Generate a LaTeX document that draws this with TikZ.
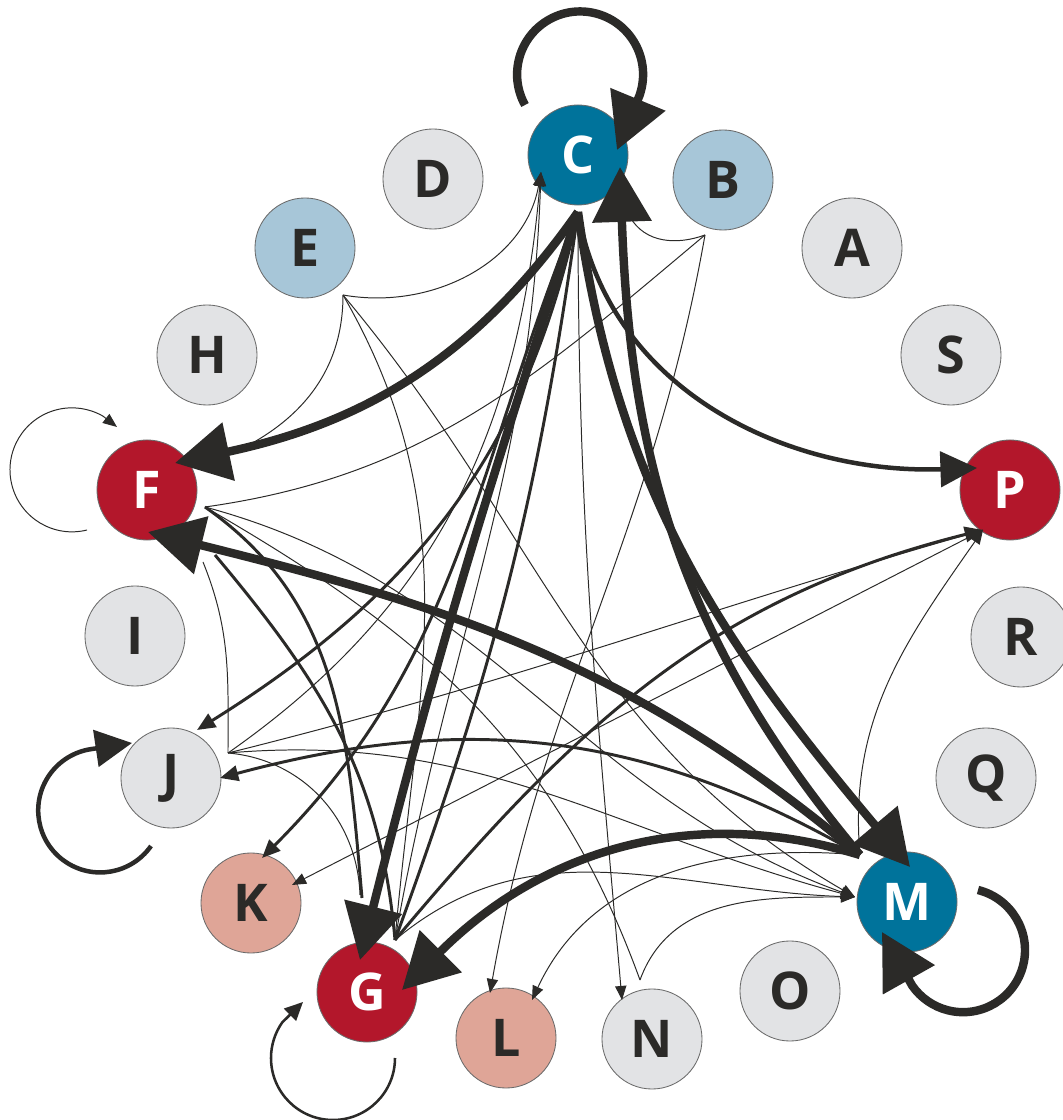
\documentclass[tikz,border=0pt]{standalone}
\usepackage{fontspec}
\setsansfont{Open Sans}
\usetikzlibrary{arrows.meta}
\definecolor{ink}{HTML}{2B2A28}
\definecolor{cteal}{HTML}{00739B}
\definecolor{cblue}{HTML}{A7C6D8}
\definecolor{cred}{HTML}{B3172B}
\definecolor{csalmon}{HTML}{DFA597}
\definecolor{cgray}{HTML}{E2E3E5}
\definecolor{cline}{HTML}{6A6A6A}
\begin{document}
\begin{tikzpicture}[x=0.025cm,y=0.025cm,
  nd/.style={circle, minimum size=2.5cm, inner sep=0pt, draw=cline, line width=0.6pt,
    font=\fontsize{37}{37}\selectfont\sffamily\bfseries},
  lt/.style={nd, fill=cgray, text=ink},
  lb/.style={nd, fill=cblue, text=ink},
  dk/.style={nd, fill=cteal, text=white},
  rd/.style={nd, fill=cred, text=white},
  sa/.style={nd, fill=csalmon, text=ink},
  e/.style={draw=ink, line cap=butt},
  ethick/.style={e, line width=6pt, -{Triangle[length=39pt,width=41pt]}},
  esemi/.style={e, line width=3.2pt, -{Triangle[length=26pt,width=25pt]}},
  eloopj/.style={e, line width=3.2pt, -{Triangle[length=26pt,width=26pt]}},
  eloopg/.style={e, line width=1.8pt, -{Triangle[length=13pt,width=12pt]}},
  emed/.style={e, line width=2.1pt, -{Triangle[length=13pt,width=11pt]}},
  emedn/.style={e, line width=2.1pt},
  ethin/.style={e, line width=0.7pt, -{Triangle[length=10pt,width=8pt]}},
  ethinn/.style={e, line width=0.7pt}
]
\fill[white] (0,0) rectangle (1063,1120);
\useasboundingbox (0,0) rectangle (1063,1120);

% nodes
\node[lt] (A) at (852,872) {A};
\node[lt] (S) at (951,765) {S};
\node[rd] (P) at (1010,630) {P};
\node[lt] (R) at (1021,483) {R};
\node[lt] (Q) at (986,342) {Q};
\node[dk] (M) at (907,218) {M};
\node[lt] (O) at (790,129) {O};
\node[lt] (N) at (652,81) {N};
\node[sa] (L) at (506,82) {L};
\node[rd] (G) at (367,128) {G};
\node[sa] (K) at (251,217) {K};
\node[lt] (J) at (171,342) {J};
\node[lt] (I) at (135,484) {I};
\node[rd] (F) at (147,630) {F};
\node[lt] (H) at (207,765) {H};
\node[lb] (E) at (305,872) {E};
\node[lt] (D) at (433,941) {D};
\node[dk] (C) at (578,965) {C};
\node[lb] (B) at (723,940) {B};

% ports
\coordinate (Cp) at (578,908);
\coordinate (Mp) at (860,265);
\coordinate (Ep) at (343,825);
\coordinate (Bp) at (705,885);
\coordinate (Fp) at (205,613);
\coordinate (Jp) at (228,367);
\coordinate (Gp) at (395,180);
\coordinate (Np) at (640,140);
\coordinate (Pp) at ([shift={(-27,-40)}]P.center);
\coordinate (Ct) at ([shift={(-37,-17)}]C.center);
\coordinate (Mt) at ([shift={(-52,5)}]M.center);
\coordinate (Lt1) at ([shift={(-16,45)}]L.center);
\coordinate (Lt2) at ([shift={(26,38)}]L.center);

% thin edges
\draw[ethin] (Ep) to[out=-10,in=-100] (Ct);
\draw[ethinn] (Ep) to[out=-90,in=25] ([shift={(86,37)}]F.center);
\draw[ethinn] (Ep) to[out=-60,in=85] (Gp);
\draw[ethin] (Ep) to[out=-50,in=150] (Mt);
\draw[ethinn] (Bp) to[out=200,in=-60] ([shift={(52,-62)}]C.center);
\draw[ethinn] (Bp) to[out=-140,in=8] (Fp);
\draw[ethin] (Bp) to[out=-100,in=80] (Lt1);
\draw[ethin] (Mp) to[out=175,in=65] (Lt2);
\draw[ethin] (Cp) to[out=-90,in=95] ([shift={(-30,39)}]N.center);
\draw[ethin] (Jp) to[out=14,in=196] (Pp);
\draw[ethin] (Jp) to[out=35,in=-95] (Ct);
\draw[ethin] (Jp) to[out=5,in=165] (Mt);
\draw[ethinn] (Jp) to[out=-5,in=92] ([shift={(-7,97)}]G.center);
\draw[ethinn] (Jp) to[out=90,in=-68] ([shift={(56,-72)}]F.center);
\draw[ethin] (Pp) -- ([shift={(41,18)}]K.center);
\draw[ethin] (Mp) to[out=95,in=-125] (Pp);
\draw[ethin] (Np) to[out=70,in=180] (Mt);
\draw[ethinn] (Np) to[out=110,in=-30] (Fp);
\draw[ethin] (Fp) to[out=-15,in=160] (Mt);
\draw[ethin] (Gp) to[out=40,in=178] (Mt);
\draw[ethin] (Gp) to[out=80,in=-92] (Ct);

% medium edges
\draw[emed] (Cp) to[out=-102,in=32] ([shift={(26,48)}]J.center);
\draw[emed] (Cp) to[out=-112,in=45] ([shift={(11,45)}]K.center);
\draw[emed] (Mp) to[out=150,in=15] ([shift={(49,0)}]J.center);
\draw[emedn] (Fp) to[out=-35,in=95] ([shift={(-5,94)}]G.center);
\draw[emedn] (Gp) to[out=95,in=-50] ([shift={(68,-65)}]F.center);
\draw[emed] (Gp) to[out=50,in=194] (Pp);
\draw[emedn] (Cp) to[out=-98,in=70] (Gp);

% semi
\draw[esemi] (Cp) to[out=-80,in=182] ([shift={(-33,22)}]P.center);

% thick edges
\draw[ethick] (Cp) to[out=-125,in=12] ([shift={(28,27)}]F.center);
\draw[ethick] (Cp) to[out=-108,in=76] ([shift={(-7,32)}]G.center);
\draw[ethick] (Cp) to[out=-82,in=130] ([shift={(3,35)}]M.center);
\draw[ethick] (Mp) to[out=130,in=-88] ([shift={(42,-12)}]C.center);
\draw[ethick] (Mp) to[out=140,in=-14] ([shift={(1,-42)}]F.center);
\draw[ethick] (Mp) to[out=163,in=45] ([shift={(35,2)}]G.center);

% self loops
\draw[ethick] ([shift={(-53,50)}]C.center) arc[start angle=209,end angle=-20,radius=63] -- ([shift={(39,5)}]C.center);
\draw[ethick] ([shift={(71,12)}]M.center) arc[start angle=76,end angle=-145,radius=62] -- ([shift={(-25,-30)}]M.center);
\draw[eloopj] ([shift={(-20,-68)}]J.center) arc[start angle=-35,end angle=-262,radius=62] -- ([shift={(-39,35)}]J.center);
\draw[ethin] ([shift={(-60,-40)}]F.center) arc[start angle=-76,end angle=-300,radius=62] -- ([shift={(-30,63)}]F.center);
\draw[eloopg] ([shift={(28,-66)}]G.center) arc[start angle=0,end angle=-215,radius=62] -- ([shift={(-64,-10)}]G.center);
\end{tikzpicture}
\end{document}
